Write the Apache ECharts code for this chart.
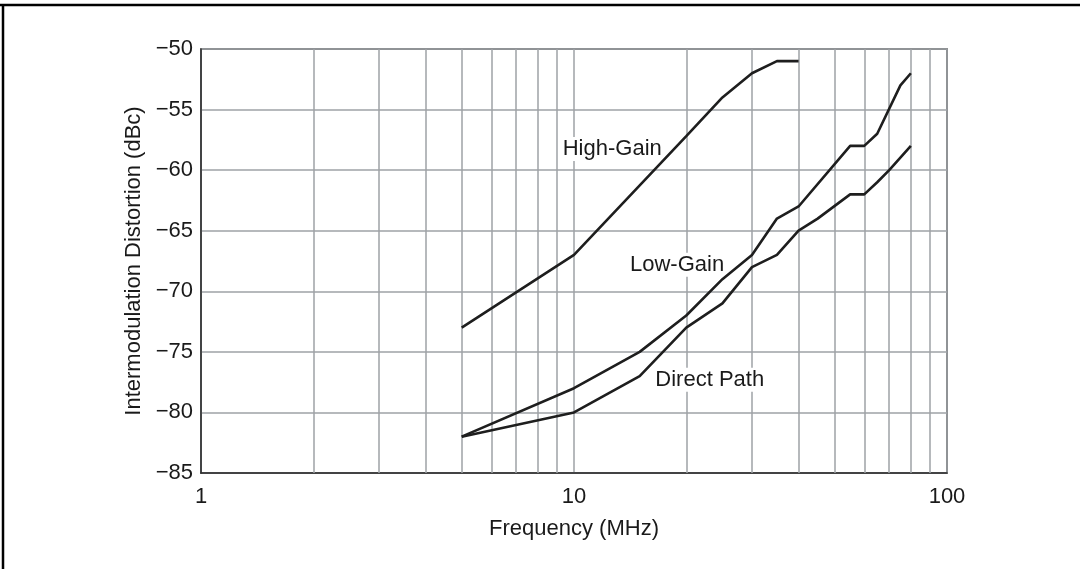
<!DOCTYPE html>
<html>
<head>
<meta charset="utf-8">
<style>
  html, body { margin: 0; padding: 0; background: #fff; }
  #chart { width: 1080px; height: 569px; }
</style>
<script src="https://cdn.jsdelivr.net/npm/echarts@6/dist/echarts.min.js"></script>
</head>
<body>
<div id="chart"></div>
<script>
// ---- data ----
const highGainFreq = [5, 10, 20, 25, 30, 35, 40];
const highGainIMD  = [-73, -67, -57.2, -54, -52, -51, -51];

const lowGainFreq = [5, 10, 15, 20, 25, 30, 35, 40, 55, 60, 65, 75, 80];
const lowGainIMD  = [-82, -78, -75, -72, -69, -67, -64, -63, -58, -58, -57, -53, -52];

const directFreq = [5, 10, 15, 20, 25, 30, 35, 40, 45, 55, 60, 65, 70, 80];
const directIMD  = [-82, -80, -77, -73, -71, -68, -67, -65, -64, -62, -62, -61, -60, -58];

const minorGridFreq = [2, 3, 4, 5, 6, 7, 8, 9, 20, 30, 40, 50, 60, 70, 80, 90];

const labelNames = ['High-Gain', 'Low-Gain', 'Direct Path'];
const labelFreq  = [9.27, 14.04, 16.42];
const labelIMD   = [-58.25, -67.8, -77.3];

const yMin = -85, yMax = -50, yStep = 5;
const xMin = 1, xMax = 100;

// ---- chart ----
const pair = (xs, ys) => xs.map((x, i) => [x, ys[i]]);
const FONT = '"Liberation Sans", Arial, Helvetica, sans-serif';
const FS = 22;
const INK = '#1a1a1a';
const lineStyle = { color: '#1e1e1e', width: 2.6 };

const chart = echarts.init(document.getElementById('chart'), null, { renderer: 'canvas' });

chart.setOption({
  animation: false,
  backgroundColor: '#ffffff',
  textStyle: { fontFamily: FONT },
  grid: {
    left: 201, right: 133, top: 49, bottom: 96,
    show: true, borderColor: '#3a3a3a', borderWidth: 1.5
  },
  xAxis: {
    type: 'log', logBase: 10, min: xMin, max: xMax,
    name: 'Frequency (MHz)', nameLocation: 'middle', nameGap: 45,
    nameTextStyle: { fontSize: FS, color: INK, fontFamily: FONT },
    axisLine: { show: true, lineStyle: { color: '#2a2a2a', width: 1.5 } },
    axisTick: { show: false },
    axisLabel: { fontSize: FS, color: INK, margin: 13, fontFamily: FONT },
    splitLine: { show: true, lineStyle: { color: '#9ea2a6', width: 1.5 } },
    minorTick: { show: false }, minorSplitLine: { show: false }
  },
  yAxis: {
    type: 'value', min: yMin, max: yMax, interval: yStep,
    name: 'Intermodulation Distortion (dBc)', nameLocation: 'middle', nameGap: 56,
    nameTextStyle: { fontSize: FS, color: INK, fontFamily: FONT },
    axisLine: { show: true, lineStyle: { color: '#2a2a2a', width: 1.5 } },
    axisTick: { show: false },
    axisLabel: {
      fontSize: FS, color: INK, margin: 8, fontFamily: FONT,
      formatter: v => String(v).replace('-', '\u2212')
    },
    splitLine: { show: true, lineStyle: { color: '#9ea2a6', width: 1.5 } }
  },
  series: [
    {
      type: 'line', name: 'minor-grid', data: [], silent: true, z: 1,
      markLine: {
        silent: true, symbol: 'none', animation: false, z: 1,
        label: { show: false },
        lineStyle: { color: '#9ea2a6', width: 1.5, type: 'solid' },
        data: minorGridFreq.map(f => ({ xAxis: f }))
      }
    },
    {
      type: 'custom', name: 'labels', silent: true, z: 4,
      data: labelNames.map((n, i) => [labelFreq[i], labelIMD[i], n]),
      renderItem: (params, api) => {
        const p = api.coord([api.value(0), api.value(1)]);
        return {
          type: 'text', z2: 10,
          x: p[0], y: p[1],
          style: {
            text: labelNames[params.dataIndex],
            fill: INK, font: FS + 'px ' + FONT,
            align: 'left', verticalAlign: 'middle',
            backgroundColor: '#ffffff', padding: [1, 1]
          }
        };
      }
    },
    { type: 'line', name: 'High-Gain', data: pair(highGainFreq, highGainIMD), showSymbol: false, lineStyle, itemStyle: { color: '#1e1e1e' }, z: 5 },
    { type: 'line', name: 'Low-Gain', data: pair(lowGainFreq, lowGainIMD), showSymbol: false, lineStyle, itemStyle: { color: '#1e1e1e' }, z: 5 },
    { type: 'line', name: 'Direct Path', data: pair(directFreq, directIMD), showSymbol: false, lineStyle, itemStyle: { color: '#1e1e1e' }, z: 5 }
  ],
  graphic: [
    { type: 'line', shape: { x1: 0, y1: 5, x2: 1080, y2: 5 }, style: { stroke: '#000', lineWidth: 2.5 }, silent: true },
    { type: 'line', shape: { x1: 3, y1: 4, x2: 3, y2: 569 }, style: { stroke: '#000', lineWidth: 2.5 }, silent: true }
  ]
});
</script>
</body>
</html>
